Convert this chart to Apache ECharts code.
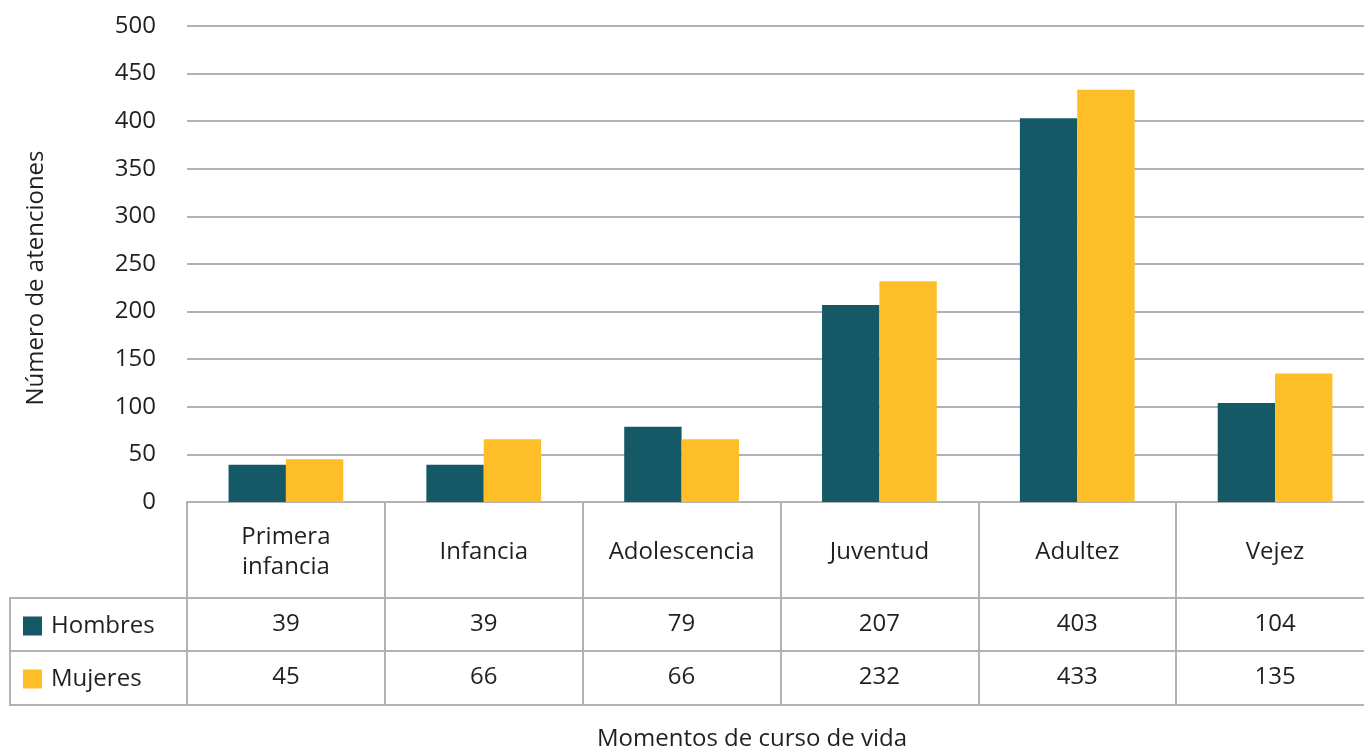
<!DOCTYPE html>
<html>
<head>
<meta charset="utf-8">
<script src="https://cdn.jsdelivr.net/npm/echarts@6/dist/echarts.min.js"></script>
<style>
  html, body { margin: 0; padding: 0; background: #ffffff; }
  #chart { width: 1364px; height: 749px; }
</style>
</head>
<body>
<div id="chart"></div>
<script>
// Atenciones por momento de curso de vida, según sexo
const categories = ['Primera\ninfancia', 'Infancia', 'Adolescencia', 'Juventud', 'Adultez', 'Vejez'];
const hombres = [39, 39, 79, 207, 403, 104];
const mujeres = [45, 66, 66, 232, 433, 135];
const seriesNames = ['Hombres', 'Mujeres'];
const yTicks = { min: 0, max: 500, interval: 50 };

const FONT = '"Open Sans", "Noto Sans", sans-serif';
const FS = 24;
const TEXT = '#231f20';
const LINE = '#b2b2b6';
const COLORS = ['#165966', '#fdbe27'];

const chart = echarts.init(document.getElementById('chart'), null, { renderer: 'canvas' });

const gridLeft = 187, gridTop = 26, gridBottom = 247, gridWidth = 1187;

// Row-label axes: same categories, labels pulled from a value list
function rowAxis(values, margin) {
  return {
    type: 'category',
    data: categories,
    position: 'bottom',
    axisLine: { show: false },
    axisTick: { show: false },
    splitLine: { show: false },
    axisLabel: {
      margin: margin,
      verticalAlign: 'middle',
      fontFamily: FONT, fontSize: FS, color: TEXT,
      formatter: (v, i) => String(values[i])
    }
  };
}

const option = {
  backgroundColor: '#ffffff',
  animation: false,
  color: COLORS,
  grid: {
    left: gridLeft, top: gridTop, bottom: gridBottom, width: gridWidth,
    containLabel: false, outerBoundsMode: 'none'
  },
  legend: {
    data: seriesNames,
    orient: 'vertical',
    left: 23, top: 614,
    padding: 0,
    icon: 'rect',
    itemWidth: 19, itemHeight: 19,
    itemGap: 29,
    textStyle: { fontFamily: FONT, fontSize: FS, color: TEXT, lineHeight: 24, padding: [0, 0, 0, 4] },
    selectedMode: false
  },
  xAxis: [
    {
      type: 'category',
      data: categories,
      position: 'bottom',
      axisLine: { show: true, lineStyle: { color: LINE, width: 2 } },
      axisTick: { show: true, length: 203, lineStyle: { color: LINE, width: 2 } },
      axisLabel: {
        margin: 50, verticalAlign: 'middle', interval: 0,
        fontFamily: FONT, fontSize: FS, color: TEXT, lineHeight: 30
      }
    },
    rowAxis(hombres, 122),
    rowAxis(mujeres, 175)
  ],
  yAxis: {
    type: 'value',
    min: yTicks.min, max: yTicks.max, interval: yTicks.interval,
    axisLine: { show: false },
    axisTick: { show: false },
    axisLabel: { margin: 31, fontFamily: FONT, fontSize: FS, color: TEXT },
    splitLine: { lineStyle: { color: LINE, width: 2 } }
  },
  series: [
    { name: seriesNames[0], type: 'bar', data: hombres, barGap: '0%', barCategoryGap: '42%', itemStyle: { color: COLORS[0] } },
    { name: seriesNames[1], type: 'bar', data: mujeres, barGap: '0%', barCategoryGap: '42%', itemStyle: { color: COLORS[1] } }
  ],
  graphic: [
    // table rules
    { type: 'line', shape: { x1: 10, y1: 598, x2: 1364, y2: 598 }, style: { stroke: LINE, lineWidth: 2 } },
    { type: 'line', shape: { x1: 10, y1: 651, x2: 1364, y2: 651 }, style: { stroke: LINE, lineWidth: 2 } },
    { type: 'line', shape: { x1: 10, y1: 705, x2: 1364, y2: 705 }, style: { stroke: LINE, lineWidth: 2 } },
    { type: 'line', shape: { x1: 10, y1: 597, x2: 10, y2: 706 }, style: { stroke: LINE, lineWidth: 2 } },
    {
      type: 'text', x: 36, y: 278, rotation: Math.PI / 2,
      style: { text: 'Número de atenciones', fontFamily: FONT, fontSize: FS, fill: TEXT, align: 'center', verticalAlign: 'middle' }
    },
    {
      type: 'text', x: 752, y: 739,
      style: { text: 'Momentos de curso de vida', fontFamily: FONT, fontSize: FS, fill: TEXT, align: 'center', verticalAlign: 'middle' }
    }
  ]
};

chart.setOption(option);
</script>
</body>
</html>
